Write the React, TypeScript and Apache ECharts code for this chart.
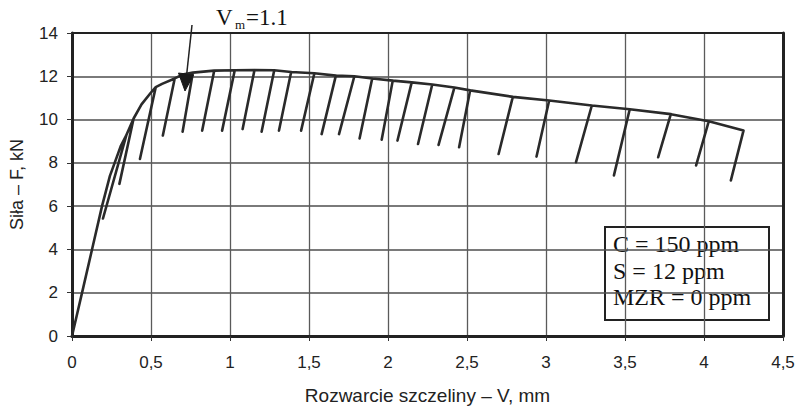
import React, { useEffect, useRef } from "react";
import * as echarts from "echarts";

// Initial loading branch (V mm, F kN)
const riseV = [0, 0.07, 0.13, 0.19, 0.24, 0.27, 0.31];
const riseF = [0, 2.2, 4.1, 6.0, 7.4, 8.0, 8.8];

// Extra envelope points between cycles
const envV = [0.44, 0.5, 0.57, 0.7];
const envF = [10.7, 11.25, 11.65, 12.08];

// Unloading cycles: top on the envelope, bottom of the unloading line
const topV = [0.345, 0.39, 0.53, 0.65, 0.765, 0.9, 1.03, 1.155, 1.28, 1.387, 1.534, 1.67, 1.787, 1.9, 2.03, 2.15, 2.28, 2.42, 2.52, 2.79, 3.02, 3.29, 3.53, 3.79, 4.03, 4.25];
const topF = [9.3, 10.05, 11.5, 11.9, 12.17, 12.26, 12.28, 12.29, 12.28, 12.2, 12.14, 12.03, 12.0, 11.9, 11.8, 11.72, 11.62, 11.48, 11.35, 11.05, 10.88, 10.65, 10.48, 10.25, 9.92, 9.49];
const botV = [0.196, 0.3, 0.43, 0.575, 0.7, 0.824, 0.95, 1.08, 1.2, 1.31, 1.45, 1.58, 1.69, 1.82, 1.96, 2.06, 2.19, 2.32, 2.45, 2.7, 2.94, 3.19, 3.43, 3.71, 3.95, 4.17];
const botF = [5.43, 7.03, 8.18, 9.26, 9.44, 9.49, 9.49, 9.56, 9.44, 9.49, 9.49, 9.33, 9.33, 9.13, 9.07, 9.03, 8.87, 8.83, 8.72, 8.41, 8.29, 8.03, 7.42, 8.26, 7.88, 7.19];

const xTicks = [0, 0.5, 1, 1.5, 2, 2.5, 3, 3.5, 4, 4.5];
const yTicks = [0, 2, 4, 6, 8, 10, 12, 14];

function buildPath(): number[][] {
  const pts: { v: number; f: number; loop: number }[] = [];
  riseV.forEach((v, i) => pts.push({ v, f: riseF[i], loop: -1 }));
  envV.forEach((v, i) => pts.push({ v, f: envF[i], loop: -1 }));
  topV.forEach((v, i) => pts.push({ v, f: topF[i], loop: i }));
  pts.sort((a, b) => a.v - b.v);
  const out: number[][] = [];
  pts.forEach((p) => {
    out.push([p.v, p.f]);
    if (p.loop >= 0) {
      out.push([botV[p.loop], botF[p.loop]]);
      if (p.loop < topV.length - 1) out.push([p.v, p.f]);
    }
  });
  return out;
}

export default function App() {
  const ref = useRef<HTMLDivElement>(null);
  useEffect(() => {
    if (!ref.current) return;
    const chart = echarts.init(ref.current, undefined, { renderer: "svg" });
    const sans = "Liberation Sans, Arial, sans-serif";
    const serif = "Liberation Serif, Times New Roman, serif";
    const xMin = xTicks[0];
    const xMax = xTicks[xTicks.length - 1];
    const yMin = yTicks[0];
    const yMax = yTicks[yTicks.length - 1];

    chart.setOption({
      animation: false,
      backgroundColor: "#ffffff",
      grid: { left: 72, right: 21, top: 33, bottom: 72, show: false },
      xAxis: [
        {
          type: "value",
          min: xMin,
          max: xMax,
          interval: 0.5,
          name: "Rozwarcie szczeliny – V, mm",
          nameLocation: "middle",
          nameGap: 50,
          nameTextStyle: { fontFamily: sans, fontSize: 19, color: "#222" },
          axisLine: { show: true, onZero: false, lineStyle: { color: "#222", width: 3 } },
          axisTick: { show: true, inside: false, length: 5, lineStyle: { color: "#333", width: 1 } },
          axisLabel: {
            margin: 18,
            fontFamily: sans,
            fontSize: 17,
            color: "#222",
            formatter: (v: number) => String(v).replace(".", ","),
          },
          splitLine: { show: true, lineStyle: { color: "#5a5a5a", width: 1.3, type: "solid" } },
        },
        {
          type: "value",
          position: "top",
          min: xMin,
          max: xMax,
          interval: 0.5,
          axisLine: { show: true, onZero: false, lineStyle: { color: "#222", width: 2 } },
          axisTick: { show: false },
          axisLabel: { show: false },
          splitLine: { show: false },
        },
      ],
      yAxis: [
        {
          type: "value",
          min: yMin,
          max: yMax,
          interval: 2,
          name: "Siła – F, kN",
          nameLocation: "middle",
          nameGap: 46,
          nameTextStyle: { fontFamily: sans, fontSize: 18, color: "#222" },
          axisLine: { show: true, onZero: false, lineStyle: { color: "#222", width: 3 } },
          axisTick: { show: true, inside: false, length: 5, lineStyle: { color: "#333", width: 1 } },
          axisLabel: { margin: 14, fontFamily: sans, fontSize: 17, color: "#222" },
          splitLine: { show: true, lineStyle: { color: "#4e4e4e", width: 1.5, type: "solid" } },
        },
        {
          type: "value",
          position: "right",
          min: yMin,
          max: yMax,
          interval: 2,
          axisLine: { show: true, onZero: false, lineStyle: { color: "#222", width: 3 } },
          axisTick: { show: false },
          axisLabel: { show: false },
          splitLine: { show: false },
        },
      ],
      series: [
        {
          type: "line",
          data: buildPath(),
          showSymbol: false,
          symbol: "none",
          lineStyle: { color: "#2a2a2a", width: 2.6, join: "round", cap: "round" },
          z: 3,
        },
      ],
      graphic: [
        {
          type: "text",
          x: 216,
          y: 17.6,
          style: { text: "V", fontFamily: serif, fontSize: 23, fill: "#111", verticalAlign: "middle", align: "left" },
        },
        {
          type: "text",
          x: 235,
          y: 24,
          style: { text: "m", fontFamily: serif, fontSize: 13, fill: "#111", verticalAlign: "middle", align: "left" },
        },
        {
          type: "text",
          x: 246,
          y: 17.6,
          style: { text: "=1.1", fontFamily: serif, fontSize: 23, fill: "#111", verticalAlign: "middle", align: "left" },
        },
        {
          type: "line",
          shape: { x1: 192, y1: 25, x2: 186.5, y2: 76 },
          style: { stroke: "#222", lineWidth: 1.5 },
          z: 10,
        },
        {
          type: "polygon",
          shape: { points: [[178.5, 73], [193.5, 75], [185, 91]] },
          style: { fill: "#1a1a1a", stroke: "#1a1a1a", lineWidth: 1 },
          z: 10,
        },
        {
          type: "group",
          z: 10,
          children: [
            {
              type: "rect",
              shape: { x: 605, y: 227, width: 164, height: 93 },
              style: { fill: "#ffffff", stroke: "#222", lineWidth: 2 },
            },
            {
              type: "text",
              x: 613,
              y: 231,
              style: {
                text: "C = 150 ppm\nS = 12 ppm\nMZR = 0 ppm",
                fontFamily: serif,
                fontSize: 24,
                lineHeight: 26.5,
                fill: "#111",
                verticalAlign: "top",
                align: "left",
              },
            },
          ],
        },
      ],
    });
    return () => chart.dispose();
  }, []);
  return (
    <div
      ref={ref}
      style={{ position: "fixed", left: 0, top: 0, width: 804, height: 410, background: "#fff" }}
    />
  );
}
